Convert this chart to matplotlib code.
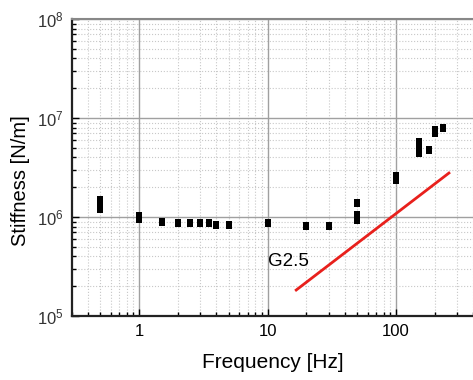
import numpy as np
import matplotlib
matplotlib.use('Agg')
from matplotlib import pyplot as plt
from matplotlib.ticker import LogLocator, NullFormatter

plt.rcParams['font.family'] = ['Liberation Sans', 'DejaVu Sans']
plt.rcParams['mathtext.fontset'] = 'custom'
plt.rcParams['mathtext.rm'] = 'Liberation Sans'

# measured stiffness points
freq = [0.5, 0.5, 0.5, 1, 1, 1.5, 2, 2.5, 3, 3.5, 4, 5, 10, 20, 30,
        50, 50, 50, 100, 100, 150, 150, 150, 180, 200, 200, 230]
stiff = [1.2e6, 1.35e6, 1.5e6, 1.03e6, 0.96e6, 0.89e6, 0.88e6, 0.86e6, 0.87e6,
         0.86e6, 0.84e6, 0.84e6, 0.87e6, 0.82e6, 0.82e6,
         1.4e6, 1.05e6, 0.93e6, 2.6e6, 2.35e6, 4.4e6, 5.1e6, 5.7e6, 4.8e6,
         7.0e6, 7.5e6, 8.0e6]

# G2.5 reference line
line_f = [16.7, 258]
line_k = [1.83e5, 2.78e6]

fig = plt.figure(figsize=(4.73, 3.80), dpi=100)
ax = fig.add_axes([0.1522, 0.1684, 0.8486, 0.7816])

ax.set_xscale('log')
ax.set_yscale('log')
ax.set_xlim(0.3, 400)
ax.set_ylim(1e5, 1e8)

ax.grid(True, which='major', color='#a0a0a0', linewidth=1.0, linestyle='-')
ax.grid(True, which='minor', color='#c8c8c8', linewidth=0.8, linestyle=':')
ax.set_axisbelow(True)

rect = [(-0.37, -0.5), (0.37, -0.5), (0.37, 0.5), (-0.37, 0.5), (-0.37, -0.5)]
ax.plot(freq, stiff, linestyle='none', marker=rect, color='black',
        markersize=6.2, markeredgewidth=0)
ax.plot(line_f, line_k, color='#e8201c', linewidth=2)
ax.text(10.1, 3.55e5, 'G2.5', fontsize=13.5, va='center', ha='left')

ax.xaxis.set_minor_locator(LogLocator(base=10, subs=np.arange(2, 10)))
ax.xaxis.set_minor_formatter(NullFormatter())
ax.yaxis.set_minor_locator(LogLocator(base=10, subs=np.arange(2, 10)))
ax.yaxis.set_minor_formatter(NullFormatter())
ax.set_xticks([1, 10, 100])
ax.set_xticklabels(['1', '10', '100'])

ax.tick_params(which='major', direction='in', length=5, width=1, labelsize=12,
               colors='black', pad=6)
ax.tick_params(which='minor', direction='in', length=3, width=1)
ax.tick_params(axis='y', labelcolor='#333333')

for side in ['left', 'bottom']:
    ax.spines[side].set_linewidth(1.6)
    ax.spines[side].set_color('#222222')
ax.spines['top'].set_color('#888888')
ax.spines['top'].set_linewidth(1.5)
ax.spines['right'].set_visible(False)

ax.set_xlabel('Frequency [Hz]', fontsize=15, labelpad=10)
ax.set_ylabel('Stiffness [N/m]', fontsize=14.5, labelpad=4)
ax.yaxis.set_label_coords(-0.105, 0.455)

plt.savefig('out.png', dpi=100)
